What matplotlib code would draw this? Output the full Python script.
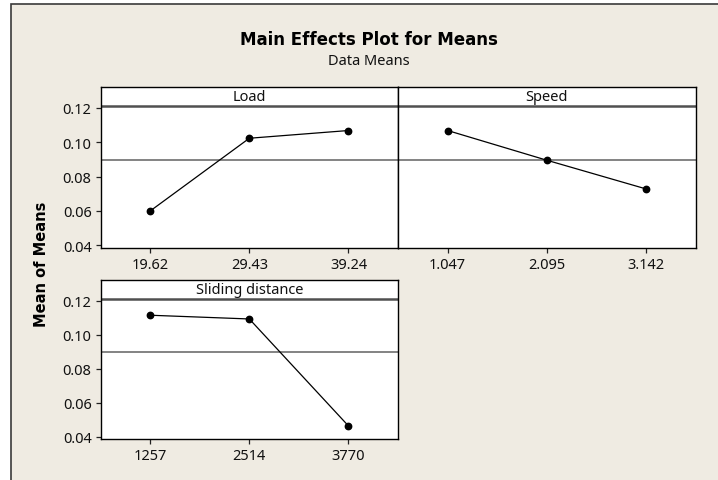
import matplotlib
matplotlib.use("Agg")
import matplotlib.pyplot as plt
from matplotlib.patches import Rectangle

plt.rcParams['font.family'] = ['Noto Sans', 'DejaVu Sans']

# level labels and mean of means per factor
load_levels = ['19.62', '29.43', '39.24']
load_means = [0.0600, 0.1023, 0.1068]

speed_levels = ['1.047', '2.095', '3.142']
speed_means = [0.1068, 0.0895, 0.0728]

dist_levels = ['1257', '2514', '3770']
dist_means = [0.1114, 0.1092, 0.0463]

grand_mean = 0.0896
yticks = [0.04, 0.06, 0.08, 0.10, 0.12]

bg = '#EFEBE2'
W, H = 718, 481

fig = plt.figure(figsize=(7.18, 4.81), dpi=100)
fig.patch.set_facecolor('white')
# beige panel, only its top and left edges fall inside the image
fig.patches.append(Rectangle((10.7 / W, -0.1), 1.2, 1.1 - 5.3 / H, transform=fig.transFigure,
                             facecolor=bg, edgecolor='#3a3a3a', linewidth=1.2, zorder=-10))


def px_axes(x0, x1, y0, y1):
    # pixel box (top-left origin) to figure fraction
    return fig.add_axes([x0 / W, 1 - y1 / H, (x1 - x0) / W, (y1 - y0) / H])


ylo, yhi, strip_y = 0.0386, 0.1323, 0.1208

panels = [
    ('Load', load_levels, load_means, (100.7, 398, 87.7, 248.7), True),
    ('Speed', speed_levels, speed_means, (398, 695.7, 87.7, 248.7), False),
    ('Sliding distance', dist_levels, dist_means, (100.7, 398, 280.7, 440), True),
]

for name, levels, means, box, show_y in panels:
    ax = px_axes(*box)
    ax.set_facecolor('white')
    xs = list(range(1, len(levels) + 1))
    ax.axhline(grand_mean, color='#6e6e6e', linewidth=1.2, zorder=1)
    ax.axhline(strip_y, color='#505050', linewidth=1.8, zorder=2)
    ax.plot(xs, means, color='black', linewidth=0.9, marker='o', markersize=4.6, zorder=3)
    ax.text(0.5, (strip_y + yhi) / 2, name, transform=ax.get_yaxis_transform(),
            ha='center', va='center', fontsize=10.5, color='#111111')
    ax.set_xlim(0.5, 3.5)
    ax.set_ylim(ylo, yhi)
    ax.set_xticks(xs)
    ax.set_xticklabels(levels)
    if show_y:
        ax.set_yticks(yticks)
        ax.set_yticklabels(['%.2f' % v for v in yticks])
    else:
        ax.set_yticks([])
    ax.tick_params(direction='out', length=3.6, width=0.9, color='#222222',
                   labelsize=10.5, labelcolor='#111111', pad=3)
    for s in ax.spines.values():
        s.set_linewidth(1.0)
        s.set_color('black')

fig.text(369 / W, 1 - 40 / H, 'Main Effects Plot for Means', ha='center', va='center',
         fontsize=12, fontweight='bold', family='DejaVu Sans', color='black')
fig.text(369 / W, 1 - 61.5 / H, 'Data Means', ha='center', va='center',
         fontsize=10.5, color='#111111')
fig.text(41.7 / W, 1 - 264 / H, 'Mean of Means', rotation=90, ha='center', va='center',
         fontsize=10.5, fontweight='bold', family='DejaVu Sans', color='black')

fig.savefig('out.png', dpi=100, facecolor=fig.get_facecolor())
